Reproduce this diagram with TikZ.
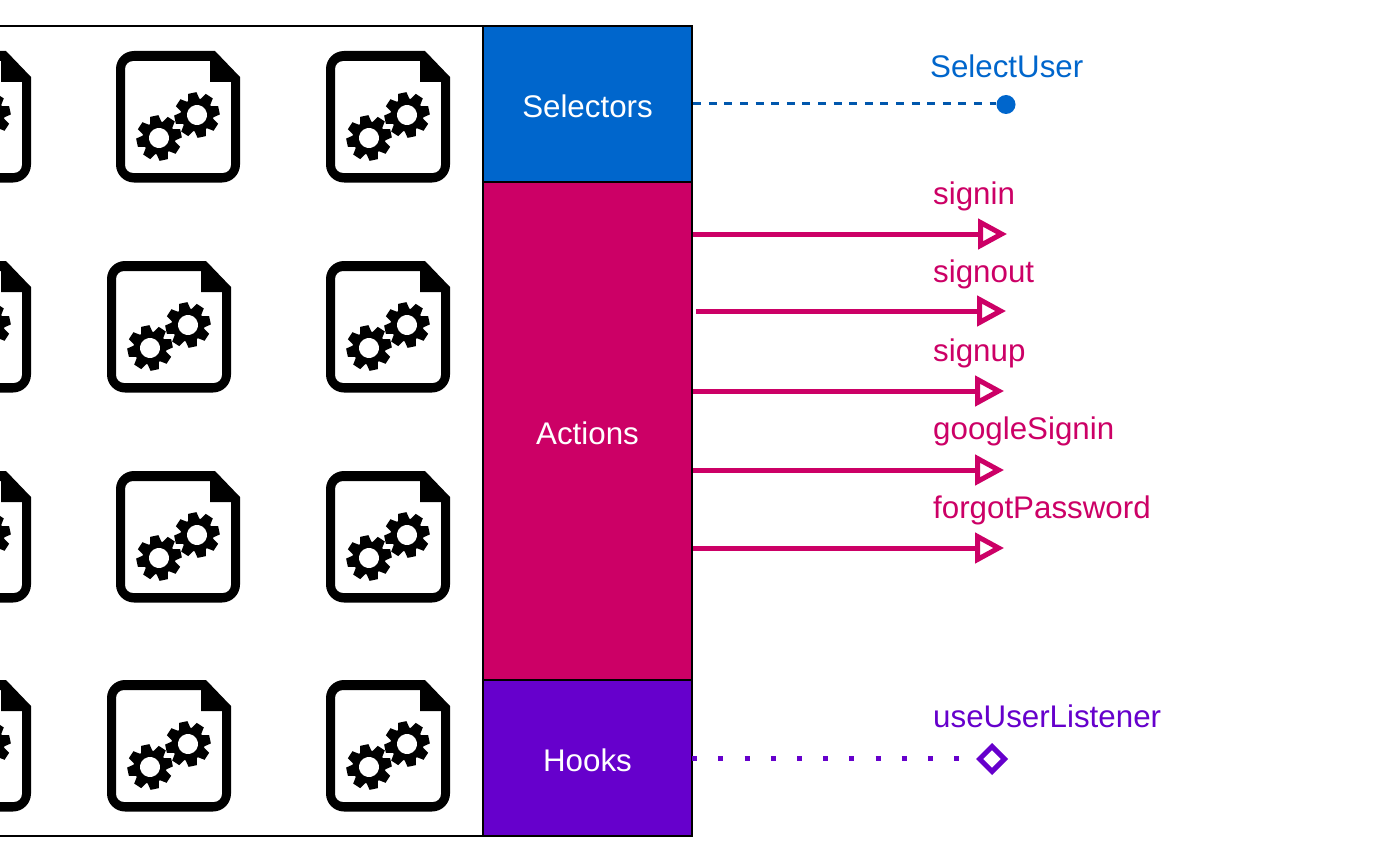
\documentclass[tikz,border=0pt]{standalone}
\usepackage{fontspec}
\setmainfont{Liberation Sans}
\usetikzlibrary{arrows.meta,shapes.geometric}
\definecolor{selblue}{HTML}{0066CC}
\definecolor{actpink}{HTML}{CC0066}
\definecolor{hookpurple}{HTML}{6600CC}
\newcommand{\gearat}[2]{%
  \begin{scope}[shift={(#1)},rotate=#2]
    \fill[black] (0,0) circle[radius=16.5pt];
    \foreach \a in {0,45,...,315}{
      \fill[black,rotate=\a] (14,-6) -- (22.5,-4.2) -- (22.5,4.2) -- (14,6) -- cycle;
    }
    \fill[white] (0,0) circle[radius=10pt];
  \end{scope}}
\newcommand{\lowered}[1]{\raisebox{-2pt}[\height][\depth]{#1}}
\tikzset{
  x=1pt,y=-1pt,
  docicon/.pic={
    \fill[black,even odd rule]
      (18,0) -- (99,0) -- (124,26) -- (124,113.5) arc[start angle=0,end angle=90,radius=18]
      -- (18,131.5) arc[start angle=90,end angle=180,radius=18]
      -- (0,18) arc[start angle=180,end angle=270,radius=18] -- cycle
      (17,10) -- (94,10) -- (94,31) -- (115,31) -- (115,114) arc[start angle=0,end angle=90,radius=8]
      -- (17,122) arc[start angle=90,end angle=180,radius=8]
      -- (9,18) arc[start angle=180,end angle=270,radius=8] -- cycle;
    \gearat{43,87}{12}
    \gearat{81,64}{12}
  },
  column/.style={draw=black,line width=2.5pt,text=white,minimum width=209pt,inner sep=0pt,font=\fontsize{31.3}{36}\selectfont},
  lbl/.style={anchor=base west,inner sep=0pt,font=\fontsize{31.3}{36}\selectfont},
  actline/.style={draw=actpink,line width=5pt,-{Triangle[open,length=29pt,width=30pt,fill=white]}},
}
\begin{document}
\begin{tikzpicture}
\useasboundingbox (0,0) rectangle (1400,856);
\clip (0,0) rectangle (1400,856);
\fill[white] (0,0) rectangle (1400,856);

\node[draw=black,line width=2.5pt,fill=white,minimum width=523pt,minimum height=810pt,inner sep=0pt] (panel) at (221.5,431) {};

\foreach \n/\px/\py in {a/-93/51,b/116/51,c/326/51,
                        d/-93/261,e/107/261,f/326/261,
                        g/-93/471,h/116/471,i/326/471,
                        j/-93/680,k/107/680,l/326/680}{
  \pic (doc\n) at (\px,\py) {docicon};
}

\node[column,fill=selblue,minimum height=156pt] (selectors) at (587.5,104) {\lowered{Selectors}};
\node[column,fill=actpink,minimum height=498pt] (actions) at (587.5,431) {\lowered{Actions}};
\node[column,fill=hookpurple,minimum height=156pt] (hooks) at (587.5,758) {\lowered{Hooks}};

% Selector output
\node[circle,fill=selblue,minimum size=19pt,inner sep=0pt] (seldot) at (1006,104.5) {};
\draw[selblue!85!black,line width=3pt,dash pattern=on 8pt off 7.6pt] (selectors.east) -- (seldot.west |- selectors.east);
\node[lbl,text=selblue] (sellabel) at (930,78) {SelectUser};

% Actions outputs
\coordinate (sigin) at (1007,234);
\coordinate (sigout) at (1006,311);
\coordinate (sigup) at (1004,391);
\coordinate (siggoogle) at (1004,470);
\coordinate (sigforgot) at (1004,548);
\draw[actline] (actions.east |- sigin) -- (sigin);
\draw[actline] ([xshift=3pt]actions.east |- sigout) -- (sigout);
\draw[actline] (actions.east |- sigup) -- (sigup);
\draw[actline] (actions.east |- siggoogle) -- (siggoogle);
\draw[actline] (actions.east |- sigforgot) -- (sigforgot);
\node[lbl,text=actpink] (l1) at (933,204) {signin};
\node[lbl,text=actpink] (l2) at (933,282) {signout};
\node[lbl,text=actpink] (l3) at (933,361) {signup};
\node[lbl,text=actpink] (l4) at (933,439) {googleSignin};
\node[lbl,text=actpink] (l5) at (933,518) {forgotPassword};

% Hook output
\node[diamond,draw=hookpurple,line width=5pt,fill=white,minimum size=27pt,inner sep=0pt] (hookend) at (992,759) {};
\draw[hookpurple,line width=5pt,dash pattern=on 5pt off 21.2pt] (hooks.east |- 0,758) ++(-1,0) -- (hookend.west |- 0,758);
\node[lbl,text=hookpurple] (l6) at (933,727) {useUserListener};
\end{tikzpicture}
\end{document}
